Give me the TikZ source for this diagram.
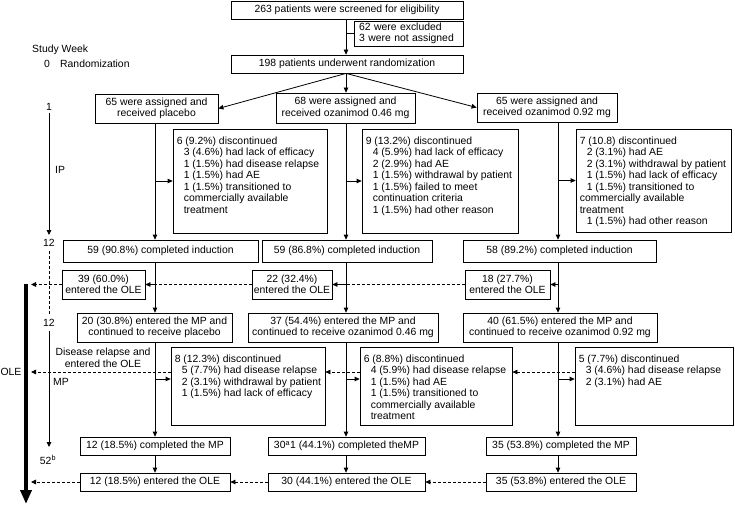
\documentclass[tikz,border=0pt]{standalone}
\usepackage{fontspec}
\setmainfont{Liberation Sans}
\usetikzlibrary{arrows.meta}
\newcommand{\fsz}{\fontsize{10.4}{11.5}\selectfont}
\newcommand{\sbi}{\hspace*{7pt}}
\tikzset{
  bx/.style={draw, line width=0.8pt, inner sep=0pt, align=center, font=\fsz},
  dtx/.style={inner sep=0pt, align=left, font=\fsz},
  lab/.style={inner sep=0pt, font=\fsz},
  ln/.style={line width=0.8pt},
  arr/.style={line width=0.8pt, -{Triangle[length=5pt,width=4.6pt]}},
  dsh/.style={line width=0.8pt, dash pattern=on 3pt off 2pt},
  dsharr/.style={arr, dash pattern=on 3pt off 2pt},
  bigarr/.style={line width=4pt, -{Triangle[length=14pt,width=11pt]}},
}
% name, x1, y1, x2, y2, text
\newcommand{\mybox}[7][]{\node[bx,minimum width={(#5)-(#3)},minimum height={(#6)-(#4)},#1] (#2) at ({((#3)+(#5))/2},{((#4)+(#6))/2}) {#7};}
\newcommand{\dbox}[6]{\mybox{#1}{#2}{#3}{#4}{#5}{}\node[dtx,anchor=north west] (#1t) at ([xshift=4pt,yshift=-8pt]#1.north west) {#6};}
\begin{document}
\begin{tikzpicture}[x=1pt,y=-1pt]
\useasboundingbox (0,0) rectangle (735,505);
% columns
\coordinate (cL) at (155,0);
\coordinate (cM) at (346,0);
\coordinate (cR) at (558,0);
\coordinate (barTop) at (26,284);
\coordinate (barBot) at (26,504);
\coordinate (barx) at (31,284);
% top
\mybox{screen}{231}{1}{463}{19}{263 patients were screened for eligibility}
\mybox[align=left,text width=99pt,inner xsep=5pt]{excl}{354}{21}{463}{46}{62 were excluded\\3 were not assigned}
\mybox{rand}{231}{55}{463}{73}{198 patients underwent randomization}
\mybox{pla}{95}{94}{218}{123}{65 were assigned and\\received placebo}
\mybox{oz46}{276}{93}{415}{123}{68 were assigned and\\received ozanimod 0.46 mg}
\mybox{oz92}{477}{93}{617}{122}{65 were assigned and\\received ozanimod 0.92 mg}
% IP discontinued
\dbox{dIP1}{173}{129}{327}{233}{6 (9.2\%) discontinued\\\sbi 3 (4.6\%) had lack of efficacy\\\sbi 1 (1.5\%) had disease relapse\\\sbi 1 (1.5\%) had AE\\\sbi 1 (1.5\%) transitioned to\\\sbi commercially available\\\sbi treatment}
\dbox{dIP2}{362}{129}{518}{233}{9 (13.2\%) discontinued\\\sbi 4 (5.9\%) had lack of efficacy\\\sbi 2 (2.9\%) had AE\\\sbi 1 (1.5\%) withdrawal by patient\\\sbi 1 (1.5\%) failed to meet\\\sbi continuation criteria\\\sbi 1 (1.5\%) had other reason}
\dbox{dIP3}{576}{129}{731}{232}{7 (10.8) discontinued\\\sbi 2 (3.1\%) had AE\\\sbi 2 (3.1\%) withdrawal by patient\\\sbi 1 (1.5\%) had lack of efficacy\\\sbi 1 (1.5\%) transitioned to\\commercially available\\treatment\\\sbi 1 (1.5\%) had other reason}
% completed induction
\mybox{ci1}{63}{240}{258}{262}{59 (90.8\%) completed induction}
\mybox{ci2}{262}{240}{432}{262}{59 (86.8\%) completed induction}
\mybox{ci3}{463}{240}{656}{262}{58 (89.2\%) completed induction}
% entered OLE after induction
\mybox{ole1}{62}{270}{145}{299}{39 (60.0\%)\\entered the OLE}
\mybox{ole2}{252}{270}{332}{299}{22 (32.4\%)\\entered the OLE}
\mybox{ole3}{465}{270}{550}{299}{18 (27.7\%)\\entered the OLE}
% MP
\mybox{mp1}{77}{313}{232}{342}{20 (30.8\%) entered the MP and\\continued to receive placebo}
\mybox{mp2}{248}{313}{438}{342}{37 (54.4\%) entered the MP and\\continued to receive ozanimod 0.46 mg}
\mybox{mp3}{463}{313}{657}{342}{40 (61.5\%) entered the MP and\\continued to receive ozanimod 0.92 mg}
\dbox{mpd1}{171}{347}{325}{425}{8 (12.3\%) discontinued\\\sbi 5 (7.7\%) had disease relapse\\\sbi 2 (3.1\%) withdrawal by patient\\\sbi 1 (1.5\%) had lack of efficacy}
\dbox{mpd2}{360}{347}{512}{425}{6 (8.8\%) discontinued\\\sbi 4 (5.9\%) had disease relapse\\\sbi 1 (1.5\%) had AE\\\sbi 1 (1.5\%) transitioned to\\\sbi commercially available\\\sbi treatment}
\dbox{mpd3}{575}{347}{733}{425}{5 (7.7\%) discontinued\\\sbi 3 (4.6\%) had disease relapse\\\sbi 2 (3.1\%) had AE}
\mybox{cmp1}{80}{437}{230}{455}{12 (18.5\%) completed the MP}
\mybox{cmp2}{268}{437}{425}{455}{30\textsuperscript{a}1 (44.1\%) completed theMP}
\mybox{cmp3}{486}{437}{636}{455}{35 (53.8\%) completed the MP}
\mybox{ole4}{80}{473}{230}{491}{12 (18.5\%) entered the OLE}
\mybox{ole5}{268}{473}{425}{491}{30 (44.1\%) entered the OLE}
\mybox{ole6}{486}{473}{636}{491}{35 (53.8\%) entered the OLE}
% left axis labels
\node[lab,anchor=west] (sw) at (32,50) {Study Week};
\node[lab] (w0) at (47,64) {0};
\node[lab,anchor=west] (wr) at (60,64) {Randomization};
\node[lab] (w1) at (49,107) {1};
\node[lab,anchor=west] (ipl) at (55,170) {IP};
\node[lab] (w12a) at (49,243) {12};
\node[lab] (w12b) at (49,323) {12};
\node[lab,anchor=west] (mpl) at (53,382) {MP};
\node[lab] (w52) at (48,460) {52\textsuperscript{b}};
\node[lab] (olel) at (11,372) {OLE};
\node[lab,align=center] (drel) at (103,358) {Disease relapse and\\entered the OLE};
\coordinate (ipEnd) at (49,235);
\coordinate (mpEnd) at (49,447);
\draw[arr] ([yshift=-2pt]w1.south) -- (ipEnd);
\draw[dsh] ([yshift=-4pt]w12a.south) -- ([yshift=4pt]w12b.north);
\draw[arr] ([yshift=-4pt]w12b.south) -- (mpEnd);
\draw[bigarr] (barTop) -- (barBot);
% top connectors
\draw[arr] (screen.south -| cM) -- (rand.north -| cM);
\draw[ln] (excl.west -| cM) -- (excl.west);
\draw[arr] (rand.south -| cM) -- (pla.east);
\draw[arr] (rand.south -| cM) -- (oz46.north -| cM);
\draw[arr] (rand.south -| cM) -- (oz92.west);
% induction columns
\draw[arr] (pla.south -| cL) -- (ci1.north -| cL);
\draw[arr] (oz46.south -| cM) -- (ci2.north -| cM);
\draw[arr] (oz92.south -| cR) -- (ci3.north -| cR);
\draw[arr] (cL |- dIP1.west) -- (dIP1.west);
\draw[arr] (cM |- dIP2.west) -- (dIP2.west);
\draw[arr] (cR |- dIP3.west) -- (dIP3.west);
% induction to MP
\draw[arr] (ci1.south -| cL) -- (mp1.north -| cL);
\draw[arr] (ci2.south -| cM) -- (mp2.north -| cM);
\draw[arr] (ci3.south -| cR) -- (mp3.north -| cR);
\draw[arr] (cL |- ole1.east) -- (ole1.east);
\draw[arr] (cM |- ole2.east) -- (ole2.east);
\draw[arr] (cR |- ole3.east) -- (ole3.east);
\draw[dsh] (ole3.west) -- (ole3.west -| cM);
\draw[dsh] (ole2.west) -- (ole2.west -| cL);
\draw[dsharr] (ole1.west) -- (ole1.west -| barx);
% MP columns
\draw[arr] (mp1.south -| cL) -- (cmp1.north -| cL);
\draw[arr] (mp2.south -| cM) -- (cmp2.north -| cM);
\draw[arr] (mp3.south -| cR) -- (cmp3.north -| cR);
\coordinate (a1) at ([yshift=7pt]mpd1.west);
\coordinate (a2) at ([yshift=7pt]mpd2.west);
\coordinate (a3) at ([yshift=7pt]mpd3.west);
\draw[arr] (cL |- a1) -- (a1);
\draw[arr] (cM |- a2) -- (a2);
\draw[arr] (cR |- a3) -- (a3);
\coordinate (d1w) at ([yshift=14pt]mpd1.west);
\coordinate (d1e) at ([yshift=14pt]mpd1.east);
\coordinate (d2w) at ([yshift=14pt]mpd2.west);
\coordinate (d2e) at ([yshift=14pt]mpd2.east);
\coordinate (d3w) at ([yshift=14pt]mpd3.west);
\draw[dsharr] (d3w) -- (d2e);
\draw[dsharr] (d2w) -- (d1e);
\draw[dsharr] (d1w) -- (d1w -| barx);
% end of MP
\draw[arr] (cmp1.south -| cL) -- (ole4.north -| cL);
\draw[arr] (cmp2.south -| cM) -- (ole5.north -| cM);
\draw[arr] (cmp3.south -| cR) -- (ole6.north -| cR);
\draw[dsharr] (ole6.west) -- (ole5.east);
\draw[dsharr] (ole5.west) -- (ole4.east);
\draw[dsharr] (ole4.west) -- (ole4.west -| barx);
\end{tikzpicture}
\end{document}
